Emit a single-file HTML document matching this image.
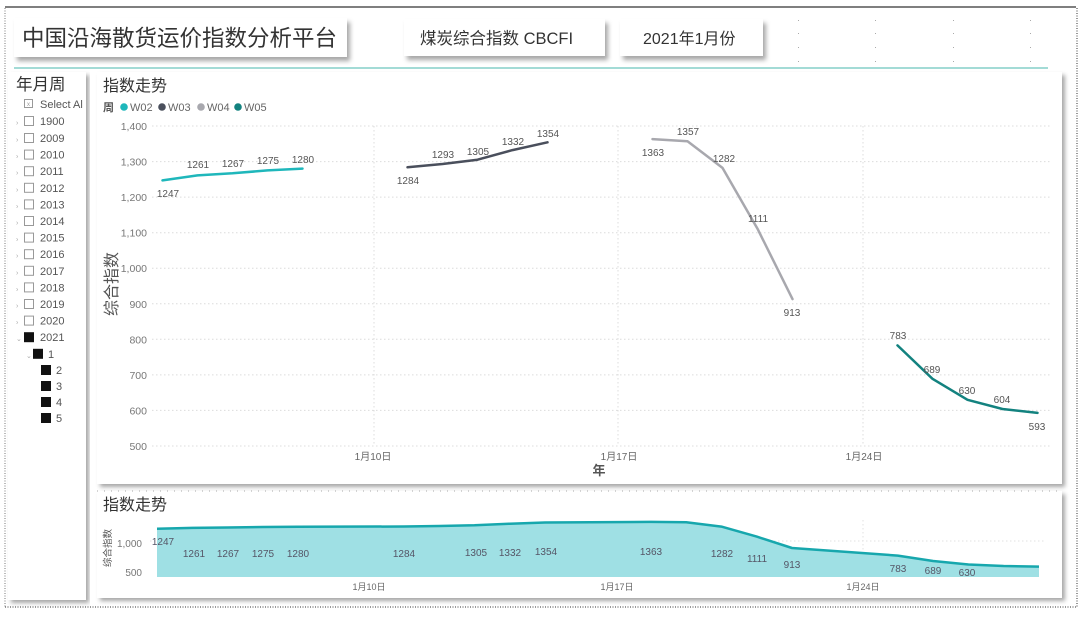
<!DOCTYPE html>
<html><head><meta charset="utf-8">
<style>
html,body{margin:0;padding:0;background:#fff;}
svg{display:block;font-family:"Liberation Sans","Noto Sans CJK SC",sans-serif;}
</style></head>
<body>
<svg width="1080" height="617" viewBox="0 0 1080 617" xmlns="http://www.w3.org/2000/svg">
<defs>
<filter id="sh" x="-5%" y="-5%" width="110%" height="115%">
<feDropShadow dx="3" dy="3" stdDeviation="2" flood-color="#000" flood-opacity="0.35"/>
</filter>
<filter id="sh2" x="-5%" y="-20%" width="110%" height="150%">
<feDropShadow dx="3" dy="4" stdDeviation="2.5" flood-color="#000" flood-opacity="0.35"/>
</filter>
</defs>
<rect width="1080" height="617" fill="#fff"/>
<!-- outer frame -->
<line x1="5" y1="7" x2="1076" y2="7" stroke="#555" stroke-width="1.5"/>
<line x1="5" y1="8" x2="5" y2="607" stroke="#777" stroke-width="1" stroke-dasharray="1,1.5"/>
<line x1="1077" y1="8" x2="1077" y2="607" stroke="#777" stroke-width="1.5" stroke-dasharray="1,1.5"/>
<line x1="5" y1="607" x2="1077" y2="607" stroke="#777" stroke-width="1.5" stroke-dasharray="1,1.5"/>
<!-- canvas dots -->
<g fill="#aaa">
<rect x="798" y="20" width="1" height="1"/><rect x="875" y="20" width="1" height="1"/><rect x="953" y="20" width="1" height="1"/><rect x="1030" y="20" width="1" height="1"/>
<rect x="798" y="33" width="1" height="1"/><rect x="875" y="33" width="1" height="1"/><rect x="953" y="33" width="1" height="1"/><rect x="1030" y="33" width="1" height="1"/>
<rect x="798" y="47" width="1" height="1"/><rect x="875" y="47" width="1" height="1"/><rect x="953" y="47" width="1" height="1"/><rect x="1030" y="47" width="1" height="1"/>
<rect x="798" y="61" width="1" height="1"/><rect x="875" y="61" width="1" height="1"/><rect x="953" y="61" width="1" height="1"/><rect x="1030" y="61" width="1" height="1"/>
</g>
<!-- header boxes -->
<rect x="14" y="18" width="333" height="39" fill="#fff" filter="url(#sh2)"/>
<text x="22" y="46" font-size="22.5" fill="#333">中国沿海散货运价指数分析平台</text>
<rect x="404" y="19" width="201" height="37" fill="#fff" filter="url(#sh2)"/>
<text x="420" y="44" font-size="16.5" fill="#333">煤炭综合指数 CBCFI</text>
<rect x="620" y="19" width="143" height="37" fill="#fff" filter="url(#sh2)"/>
<text x="643" y="44" font-size="16" fill="#333">2021年1月份</text>
<line x1="14" y1="68" x2="1048" y2="68" stroke="#a3dbd6" stroke-width="2"/>

<!-- slicer panel -->
<rect x="8" y="72" width="78" height="528" fill="#fff" filter="url(#sh)"/>
<text x="16" y="90" font-size="16.5" fill="#333">年月周</text>
<g font-size="11" fill="#555">
<rect x="24.5" y="99.5" width="8" height="8" fill="none" stroke="#999"/><text x="27" y="106" font-size="6" fill="#999">x</text>
<text x="40" y="108">Select Al</text>
</g>
<g font-size="11" fill="#555">
<g transform="translate(0,121)"><text x="16" y="4" font-size="7" fill="#aaa">›</text><rect x="24.5" y="-4.5" width="9" height="9" fill="none" stroke="#999"/><text x="40" y="4">1900</text></g>
<g transform="translate(0,138)"><text x="16" y="4" font-size="7" fill="#aaa">›</text><rect x="24.5" y="-4.5" width="9" height="9" fill="none" stroke="#999"/><text x="40" y="4">2009</text></g>
<g transform="translate(0,154.6)"><text x="16" y="4" font-size="7" fill="#aaa">›</text><rect x="24.5" y="-4.5" width="9" height="9" fill="none" stroke="#999"/><text x="40" y="4">2010</text></g>
<g transform="translate(0,171.2)"><text x="16" y="4" font-size="7" fill="#aaa">›</text><rect x="24.5" y="-4.5" width="9" height="9" fill="none" stroke="#999"/><text x="40" y="4">2011</text></g>
<g transform="translate(0,187.8)"><text x="16" y="4" font-size="7" fill="#aaa">›</text><rect x="24.5" y="-4.5" width="9" height="9" fill="none" stroke="#999"/><text x="40" y="4">2012</text></g>
<g transform="translate(0,204.4)"><text x="16" y="4" font-size="7" fill="#aaa">›</text><rect x="24.5" y="-4.5" width="9" height="9" fill="none" stroke="#999"/><text x="40" y="4">2013</text></g>
<g transform="translate(0,221)"><text x="16" y="4" font-size="7" fill="#aaa">›</text><rect x="24.5" y="-4.5" width="9" height="9" fill="none" stroke="#999"/><text x="40" y="4">2014</text></g>
<g transform="translate(0,237.6)"><text x="16" y="4" font-size="7" fill="#aaa">›</text><rect x="24.5" y="-4.5" width="9" height="9" fill="none" stroke="#999"/><text x="40" y="4">2015</text></g>
<g transform="translate(0,254.2)"><text x="16" y="4" font-size="7" fill="#aaa">›</text><rect x="24.5" y="-4.5" width="9" height="9" fill="none" stroke="#999"/><text x="40" y="4">2016</text></g>
<g transform="translate(0,270.8)"><text x="16" y="4" font-size="7" fill="#aaa">›</text><rect x="24.5" y="-4.5" width="9" height="9" fill="none" stroke="#999"/><text x="40" y="4">2017</text></g>
<g transform="translate(0,287.4)"><text x="16" y="4" font-size="7" fill="#aaa">›</text><rect x="24.5" y="-4.5" width="9" height="9" fill="none" stroke="#999"/><text x="40" y="4">2018</text></g>
<g transform="translate(0,304)"><text x="16" y="4" font-size="7" fill="#aaa">›</text><rect x="24.5" y="-4.5" width="9" height="9" fill="none" stroke="#999"/><text x="40" y="4">2019</text></g>
<g transform="translate(0,320.6)"><text x="16" y="4" font-size="7" fill="#aaa">›</text><rect x="24.5" y="-4.5" width="9" height="9" fill="none" stroke="#999"/><text x="40" y="4">2020</text></g>
<g transform="translate(0,337.2)"><text x="16" y="4" font-size="7" fill="#aaa">⌄</text><rect x="24" y="-5" width="10" height="10" fill="#111"/><text x="40" y="4">2021</text></g>
<g transform="translate(0,353.8)"><text x="26" y="4" font-size="7" fill="#aaa">⌄</text><rect x="33" y="-5" width="10" height="10" fill="#111"/><text x="48" y="4">1</text></g>
<g transform="translate(0,370)"><rect x="41" y="-5" width="10" height="10" fill="#111"/><text x="56" y="4">2</text></g>
<g transform="translate(0,386)"><rect x="41" y="-5" width="10" height="10" fill="#111"/><text x="56" y="4">3</text></g>
<g transform="translate(0,402)"><rect x="41" y="-5" width="10" height="10" fill="#111"/><text x="56" y="4">4</text></g>
<g transform="translate(0,418)"><rect x="41" y="-5" width="10" height="10" fill="#111"/><text x="56" y="4">5</text></g>
</g>

<!-- main panel -->
<rect x="97" y="72" width="965" height="412" fill="#fff" filter="url(#sh)"/>
<text x="103" y="91" font-size="16" fill="#333">指数走势</text>
<g font-size="11" fill="#666">
<text x="103" y="111" font-weight="bold" fill="#555">周</text>
<circle cx="124" cy="107" r="3.8" fill="#1fb7bb"/><text x="130" y="111">W02</text>
<circle cx="162" cy="107" r="3.8" fill="#4a4f5c"/><text x="168" y="111">W03</text>
<circle cx="201" cy="107" r="3.8" fill="#a8a8ae"/><text x="207" y="111">W04</text>
<circle cx="238" cy="107" r="3.8" fill="#13827f"/><text x="244" y="111">W05</text>
</g>
<!-- gridlines -->
<g stroke="#dcdcdc" stroke-width="1" stroke-dasharray="1.5,2.5">
<line x1="152" y1="126" x2="1050" y2="126"/>
<line x1="152" y1="161.6" x2="1050" y2="161.6"/>
<line x1="152" y1="197.1" x2="1050" y2="197.1"/>
<line x1="152" y1="232.7" x2="1050" y2="232.7"/>
<line x1="152" y1="268.2" x2="1050" y2="268.2"/>
<line x1="152" y1="303.8" x2="1050" y2="303.8"/>
<line x1="152" y1="339.3" x2="1050" y2="339.3"/>
<line x1="152" y1="374.9" x2="1050" y2="374.9"/>
<line x1="152" y1="410.4" x2="1050" y2="410.4"/>
<line x1="152" y1="446" x2="1050" y2="446"/>
<line x1="374" y1="126" x2="374" y2="446"/>
<line x1="618" y1="126" x2="618" y2="446"/>
<line x1="863" y1="126" x2="863" y2="446"/>
</g>
<g font-size="10.5" fill="#777" text-anchor="end">
<text x="147" y="130">1,400</text>
<text x="147" y="165.6">1,300</text>
<text x="147" y="201.1">1,200</text>
<text x="147" y="236.7">1,100</text>
<text x="147" y="272.2">1,000</text>
<text x="147" y="307.8">900</text>
<text x="147" y="343.3">800</text>
<text x="147" y="378.9">700</text>
<text x="147" y="414.4">600</text>
<text x="147" y="450">500</text>
</g>
<text transform="translate(117,284) rotate(-90)" font-size="16" fill="#555" text-anchor="middle">综合指数</text>
<g font-size="10" fill="#666" text-anchor="middle">
<text x="373" y="460">1月10日</text>
<text x="619" y="460">1月17日</text>
<text x="864" y="460">1月24日</text>
</g>
<text x="599" y="475" font-size="13" font-weight="bold" fill="#555" text-anchor="middle">年</text>

<!-- series -->
<g fill="none" stroke-width="2.5" stroke-linejoin="round" stroke-linecap="round">
<polyline stroke="#1fb7bb" points="162.5,180.4 197.5,175.4 232.5,173.3 267.5,170.4 302.5,168.6"/>
<polyline stroke="#4a4f5c" points="407.5,167.2 442.5,164.0 477.5,159.7 512.5,150.1 547.5,142.3"/>
<polyline stroke="#a8a8ae" points="652.5,139.1 687.5,141.3 722.5,167.9 757.5,228.7 792.5,299.1"/>
<polyline stroke="#13827f" points="897.5,345.4 932.5,378.8 967.5,399.8 1002.5,409.0 1037.5,412.9"/>
</g>
<g font-size="10" fill="#555" text-anchor="middle">
<text x="168" y="197">1247</text>
<text x="198" y="168">1261</text>
<text x="233" y="167">1267</text>
<text x="268" y="164">1275</text>
<text x="303" y="163">1280</text>
<text x="408" y="184">1284</text>
<text x="443" y="158">1293</text>
<text x="478" y="155">1305</text>
<text x="513" y="145">1332</text>
<text x="548" y="137">1354</text>
<text x="653" y="156">1363</text>
<text x="688" y="135">1357</text>
<text x="724" y="162">1282</text>
<text x="758" y="222">1111</text>
<text x="792" y="316">913</text>
<text x="898" y="339">783</text>
<text x="932" y="373">689</text>
<text x="967" y="394">630</text>
<text x="1002" y="403">604</text>
<text x="1037" y="430">593</text>
</g>

<!-- bottom panel -->
<rect x="97" y="491" width="965" height="107" fill="#fff" filter="url(#sh)"/>
<line x1="97" y1="491" x2="1062" y2="491" stroke="#aaa" stroke-width="1" stroke-dasharray="1,6"/>
<text x="103" y="510" font-size="16" fill="#333">指数走势</text>
<g stroke="#e2e2e2" stroke-width="1" stroke-dasharray="1.5,2.5">
<line x1="150" y1="541" x2="1045" y2="541"/>
<line x1="863" y1="520" x2="863" y2="577"/>
</g>
<text transform="translate(111,548) rotate(-90)" font-size="9.5" fill="#555" text-anchor="middle">综合指数</text>
<g font-size="10" fill="#777" text-anchor="end">
<text x="142" y="547">1,000</text>
<text x="142" y="576">500</text>
</g>
<polygon fill="#9fe0e4" points="157,528.7 192.3,527.9 227.6,527.5 262.8,527.0 298.1,526.8 404,526.5 439.2,526.0 474.5,525.3 509.8,523.7 545,522.5 650.9,521.9 686.2,522.3 721.4,526.6 756.7,536.6 792,548.0 897.8,555.6 933.1,561.0 968.4,564.5 1003.6,566.0 1039,566.6 1039,577 157,577"/>
<polyline fill="none" stroke="#17a7ad" stroke-width="2.5" stroke-linejoin="round" points="157,528.7 192.3,527.9 227.6,527.5 262.8,527.0 298.1,526.8 404,526.5 439.2,526.0 474.5,525.3 509.8,523.7 545,522.5 650.9,521.9 686.2,522.3 721.4,526.6 756.7,536.6 792,548.0 897.8,555.6 933.1,561.0 968.4,564.5 1003.6,566.0 1039,566.6"/>
<g font-size="10" fill="#556" text-anchor="middle">
<text x="163" y="545">1247</text>
<text x="194" y="557">1261</text>
<text x="228" y="557">1267</text>
<text x="263" y="557">1275</text>
<text x="298" y="557">1280</text>
<text x="404" y="557">1284</text>
<text x="476" y="556">1305</text>
<text x="510" y="556">1332</text>
<text x="546" y="555">1354</text>
<text x="651" y="555">1363</text>
<text x="722" y="557">1282</text>
<text x="757" y="562">1111</text>
<text x="792" y="568">913</text>
<text x="898" y="572">783</text>
<text x="933" y="574">689</text>
<text x="967" y="576">630</text>
</g>
<g font-size="9" fill="#666" text-anchor="middle">
<text x="369" y="590">1月10日</text>
<text x="617" y="590">1月17日</text>
<text x="863" y="590">1月24日</text>
</g>
</svg>
</body></html>
